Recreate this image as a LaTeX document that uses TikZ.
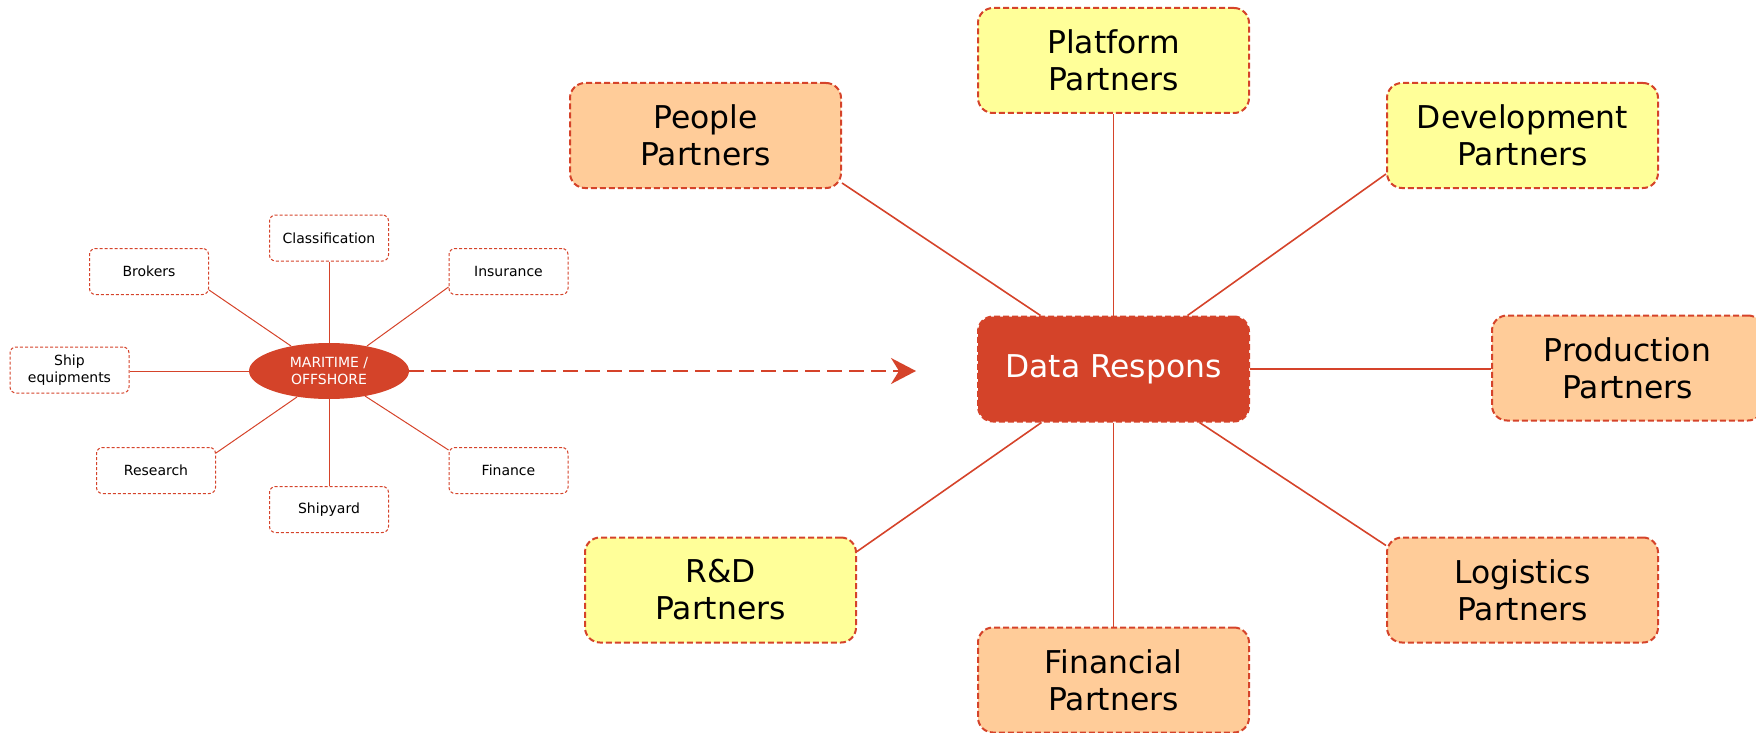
\documentclass[tikz,border=0pt]{standalone}
\usepackage{fontspec}
\setmainfont{DejaVu Sans}
\usetikzlibrary{calc,backgrounds,arrows.meta,shapes.geometric}
\definecolor{redline}{RGB}{213,67,42}
\definecolor{drfill}{RGB}{212,67,41}
\definecolor{peach}{RGB}{255,204,153}
\definecolor{lyellow}{RGB}{255,255,153}
\tikzset{
 bigbox/.style={draw=redline, line width=1pt, dash pattern=on 3pt off 1.5pt, rounded corners=7.5pt, minimum width=135.5pt, minimum height=52.5pt, align=center, inner sep=2pt, font=\fontsize{15.7}{18.5}\selectfont, text=black},
 peachbox/.style={bigbox, fill=peach},
 yellowbox/.style={bigbox, fill=lyellow},
 corebox/.style={bigbox, fill=drfill, text=white},
 smallbox/.style={draw=redline, line width=0.5pt, dash pattern=on 1.5pt off 1pt, rounded corners=3pt, fill=white, minimum width=59.5pt, minimum height=23pt, align=center, inner sep=1pt, font=\fontsize{7}{8.4}\selectfont},
 hub/.style={ellipse, fill=drfill, minimum width=80pt, minimum height=28pt, inner sep=0pt, align=center, text=white, font=\fontsize{7}{8.4}\selectfont},
 bigline/.style={draw=redline, line width=0.8pt},
 smallline/.style={draw=redline, line width=0.5pt},
 flowarrow/.style={draw=redline, line width=1pt, dash pattern=on 7.5pt off 3.5pt, -{Stealth[length=12.5pt,width=13pt,inset=4pt]}},
}
\begin{document}
\begin{tikzpicture}[x=0.5pt,y=-0.5pt]
\useasboundingbox (0,0) rectangle (1756,733);
% big diagram
\node[corebox] (dr) at (1113.5,369) {Data Respons};
\node[peachbox] (pp) at (705.5,135.5) {People\\Partners};
\node[yellowbox] (plat) at (1113.5,60.5) {Platform\\Partners};
\node[yellowbox] (dev) at (1522.5,135.5) {Development\\Partners};
\node[peachbox] (prod) at (1627.5,368) {Production\\Partners};
\node[yellowbox] (rd) at (720.5,590) {R\&D\\Partners};
\node[peachbox] (log) at (1522.5,590) {Logistics\\Partners};
\node[peachbox] (fin) at (1113.5,680) {Financial\\Partners};
% small diagram
\node[hub] (mo) at (329,371) {MARITIME /\\OFFSHORE};
\node[smallbox] (cls) at (329,238) {Classification};
\node[smallbox] (brk) at (149,271.5) {Brokers};
\node[smallbox] (ins) at (508.5,271.5) {Insurance};
\node[smallbox] (shq) at (69.5,370) {Ship\\equipments};
\node[smallbox] (res) at (156,470.5) {Research};
\node[smallbox] (finc) at (508.5,470.5) {Finance};
\node[smallbox] (sy) at (329,509.5) {Shipyard};
\coordinate (aend) at (916,371);
\begin{scope}[on background layer]
\draw[bigline] ($(pp.south east)+(0,-6)$) -- ($(dr.north)+(-73,0)$);
\draw[bigline] (plat.south) -- (dr.north);
\draw[bigline] ($(dev.south west)+(0,-15)$) -- ($(dr.north)+(74,0)$);
\draw[bigline] (dr.east) -- (dr.east -| prod.west);
\draw[bigline] ($(rd.north east)+(0,15)$) -- ($(dr.south)+(-72,0)$);
\draw[bigline] ($(log.north west)+(0,9)$) -- ($(dr.south)+(86,0)$);
\draw[bigline] (dr.south) -- (fin.north);
\draw[smallline] ($(brk.south east)+(0,-5)$) -- ($(mo.center)+(-38,-25)$);
\draw[smallline] (cls.south) -- (mo.north);
\draw[smallline] ($(ins.south west)+(0,-8)$) -- ($(mo.center)+(38,-25)$);
\draw[smallline] (mo.west) -- (mo.west -| shq.east);
\draw[smallline] ($(res.north east)+(0,6)$) -- ($(mo.center)+(-32,26)$);
\draw[smallline] ($(finc.north west)+(0,3)$) -- ($(mo.center)+(36,25)$);
\draw[smallline] (sy.north) -- (mo.south);
\end{scope}
\draw[flowarrow] (mo.east) -- (aend);
\end{tikzpicture}
\end{document}
